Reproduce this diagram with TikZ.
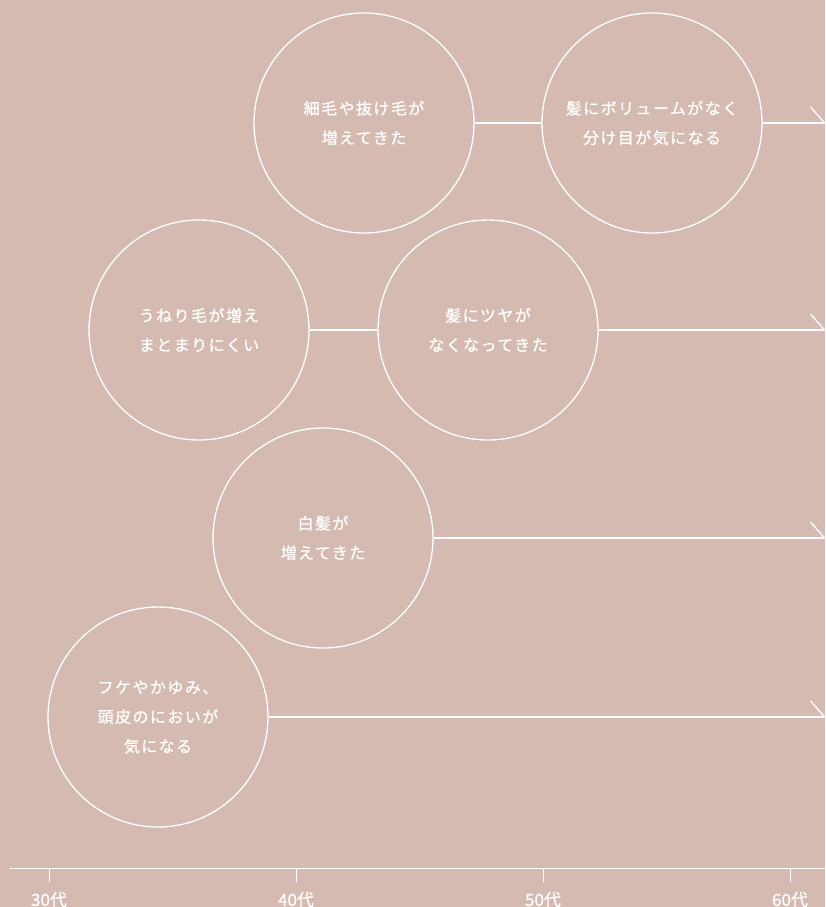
\documentclass[tikz,border=0pt]{standalone}
\usepackage{fontspec}
\newfontfamily\jp[LetterSpace=9,FakeBold=0.8]{Noto Sans CJK JP}
\newfontfamily\jpax[FakeBold=0.5]{Noto Sans CJK JP}
\usetikzlibrary{arrows.meta}
\definecolor{bg}{RGB}{212,186,176}
\tikzset{
  x=1pt,y=-1pt,
  bubble/.style={draw=white,line width=1.3pt,circle,minimum size=220pt,inner sep=0pt,
    text=white,font=\jp\fontsize{16}{29.5}\selectfont,align=center},
  link/.style={draw=white,line width=1.3pt},
  arrowlink/.style={link,-{Straight Barb[left,length=14pt,width=32pt,line width=1.3pt]}},
  tick/.style={draw=white,line width=1pt},
  agelabel/.style={text=white,font=\jpax\fontsize{17}{17}\selectfont,inner sep=0pt,anchor=base}
}
\begin{document}
\begin{tikzpicture}
\fill[bg] (0,0) rectangle (825,907);
\useasboundingbox (0,0) rectangle (825,907);
\clip (0,0) rectangle (825,907);
\node[bubble] (c1) at (364,123) {細毛や抜け毛が\\増えてきた};
\node[bubble] (c2) at (652,123) {髪にボリュームがなく\\分け目が気になる};
\node[bubble] (c3) at (199,330) {うねり毛が増え\\まとまりにくい};
\node[bubble] (c4) at (488,330) {髪にツヤが\\なくなってきた};
\node[bubble] (c5) at (323,538) {白髪が\\増えてきた};
\node[bubble] (c6) at (158,717) {フケやかゆみ、\\頭皮のにおいが\\気になる};
\coordinate (e2) at (826,123);
\coordinate (e4) at (826,330);
\coordinate (e5) at (826,538);
\coordinate (e6) at (826,717);
\draw[link] (c1.east) -- (c2.west);
\draw[link] (c3.east) -- (c4.west);
\draw[arrowlink] (c2.east) -- (e2);
\draw[arrowlink] (c4.east) -- (e4);
\draw[arrowlink] (c5.east) -- (e5);
\draw[arrowlink] (c6.east) -- (e6);
% axis
\coordinate (a0) at (10,868);
\coordinate (a1) at (830,868);
\draw[tick] (a0) -- (a1);
\foreach \x/\t/\n in {49/30代/t3,296/40代/t4,543/50代/t5,790/60代/t6}{
  \coordinate (\n) at (\x,868);
  \draw[tick] (\n) -- ++(0,14);
  \node[agelabel] at (\x,906) {\t};
}
\end{tikzpicture}
\end{document}
